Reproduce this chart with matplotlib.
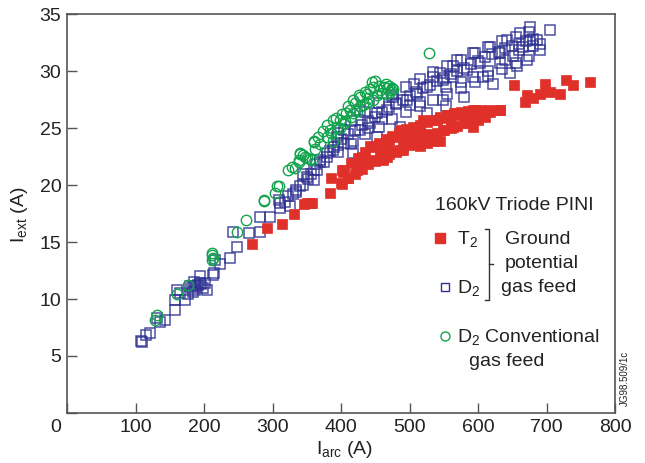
import matplotlib
matplotlib.use("Agg")
import matplotlib.pyplot as plt
from matplotlib.lines import Line2D

plt.rcParams['font.family'] = ['Liberation Sans', 'DejaVu Sans']
plt.rcParams['mathtext.fontset'] = 'custom'
plt.rcParams['mathtext.rm'] = 'Liberation Sans'
plt.rcParams['mathtext.it'] = 'Liberation Sans'
plt.rcParams['mathtext.default'] = 'regular'

# T2, ground potential gas feed
t2_arc = [270, 292, 314, 332, 346, 357, 350, 355, 384, 385, 401, 401, 403, 423, 428,
          437, 442, 442, 457, 461, 467, 476, 486, 486, 491, 491, 501, 510, 515, 515,
          520, 525, 534, 540, 544, 545, 549, 554, 559, 564, 569, 569, 581, 593, 593,
          598, 600, 618, 618, 632, 632, 652, 669, 671, 680, 691, 698, 705, 720, 729,
          739, 764, 410, 430, 470, 480, 500, 530, 560, 585, 610,
          # dense band, lower edge
          400, 410, 420, 430, 440, 450, 460, 470, 480, 490, 500, 510, 520, 530, 540,
          550, 560, 570, 580, 590, 600,
          # dense band, upper edge
          405, 415, 425, 435, 445, 455, 465, 475, 485, 495, 505, 515, 525, 535, 545,
          555, 565, 575, 585, 595, 605]
t2_ext = [14.8, 16.2, 16.6, 17.5, 18.3, 18.4, 18.4, 18.4, 19.3, 20.6, 20.1, 21.3, 21.1, 21.3, 21.6,
          21.9, 23.4, 22.2, 22.8, 22.2, 22.5, 24.2, 23.1, 24.8, 24.2, 23.1, 24.2, 24.2, 24.8, 23.4,
          25.7, 23.7, 23.9, 25.7, 26.0, 23.9, 24.8, 26.0, 26.0, 25.1, 26.1, 26.3, 25.7, 26.6, 25.1,
          26.4, 25.7, 26.4, 26.6, 26.6, 26.6, 28.8, 27.3, 27.9, 27.6, 28.0, 28.9, 28.2, 28.0, 29.2,
          28.8, 29.0, 20.6, 22.5, 23.5, 22.9, 24.6, 24.5, 25.2, 25.4, 26.0,
          20.2, 20.6, 21.0, 21.4, 21.8, 22.1, 22.4, 22.7, 23.0, 23.3, 23.5, 23.8, 24.1, 24.3, 24.6,
          24.8, 25.0, 25.2, 25.4, 25.6, 25.8,
          21.3, 21.9, 22.4, 22.9, 23.3, 23.7, 24.0, 24.3, 24.6, 24.9, 25.1, 25.3, 25.5, 25.7, 25.9,
          26.1, 26.3, 26.4, 26.5, 26.6, 26.6]

# D2, ground potential gas feed
d2_arc = [108, 110, 116, 121, 131, 136, 143, 158, 158, 160, 165, 172, 177, 180, 184,
          189, 194, 194, 202, 204, 213, 214, 216, 223, 238, 243, 248, 265, 282, 282,
          296, 309, 311, 311, 326, 335, 335, 345, 345, 350, 360, 360, 365, 379, 389,
          394, 404, 404, 418, 418, 428, 428, 442, 452, 452, 467, 476, 481, 486, 496,
          506, 511, 525, 525, 535, 545, 549, 549, 554, 554, 564, 564, 569, 579, 584,
          593, 593, 603, 608, 618, 622, 632, 632, 642, 647, 651, 657, 661, 666, 671,
          676, 676, 686, 690, 691, 705, 370, 395, 440, 460, 500, 515, 575, 615, 640,
          660, 680,
          183, 187, 191, 196, 199, 186, 318, 322, 330, 340, 352, 356, 364, 370, 375, 384,
          # dense band, centre
          380, 390, 400, 410, 420, 430, 440, 450, 460, 470, 480, 490, 500, 510, 520,
          530, 540, 550, 560, 570, 580, 590, 600, 610, 620, 630, 640, 650, 660, 670, 680,
          # dense band, lower
          395, 415, 435, 455, 475, 495, 515, 535, 555, 575, 595, 615, 635, 655, 675,
          # dense band, upper
          395, 415, 435, 455, 475, 495, 515, 535, 555, 575, 595, 615, 635, 655, 675]
d2_ext = [6.3, 6.2, 6.8, 7.0, 8.3, 8.0, 8.2, 9.0, 9.9, 10.8, 10.5, 9.9, 10.4, 11.1, 10.6,
          11.1, 11.4, 12.0, 11.4, 10.8, 12.1, 12.3, 13.4, 13.1, 13.6, 15.9, 14.6, 15.8, 15.9, 17.2,
          17.2, 18.7, 18.0, 18.4, 18.2, 19.4, 19.6, 20.0, 21.0, 20.7, 20.4, 21.3, 21.3, 22.5, 23.1,
          24.2, 23.7, 24.8, 23.9, 22.8, 24.8, 26.6, 25.4, 26.3, 24.2, 26.6, 27.7, 27.2, 25.1, 27.5,
          28.9, 28.0, 28.6, 26.3, 29.5, 29.8, 29.2, 27.5, 28.6, 26.9, 30.4, 29.5, 31.0, 27.7, 30.1,
          31.6, 29.5, 30.7, 29.5, 32.1, 28.9, 31.6, 30.7, 32.7, 29.8, 31.3, 30.4, 33.3, 32.1, 31.0,
          33.9, 32.7, 32.7, 32.4, 31.8, 33.6, 22.0, 23.5, 25.0, 25.8, 27.0, 27.3, 29.0, 30.0, 31.0,
          31.8, 32.2,
          11.0, 10.8, 11.2, 11.3, 11.0, 11.5, 18.5, 19.0, 19.2, 19.9, 20.5, 21.0, 21.8, 22.2, 22.0, 23.0,
          22.8, 23.3, 24.0, 24.5, 24.8, 25.3, 25.6, 26.0, 26.4, 26.8, 27.1, 27.5, 27.8, 28.2, 28.5,
          28.8, 29.1, 29.4, 29.7, 30.0, 30.3, 30.6, 30.9, 31.2, 31.5, 31.7, 32.0, 32.2, 32.4, 32.6, 32.8,
          22.9, 23.6, 24.5, 25.1, 25.8, 26.4, 26.9, 27.5, 28.0, 28.5, 29.0, 29.6, 30.2, 30.7, 31.3,
          24.6, 25.6, 26.4, 27.2, 27.9, 28.6, 29.3, 29.9, 30.4, 31.0, 31.6, 32.1, 32.6, 33.0, 33.4]

# D2, conventional gas feed
conv_arc = [129, 131, 160, 176, 211, 212, 212, 213, 248, 262, 287, 287, 304, 306, 309,
            338, 338, 340, 340, 348, 350, 355, 357, 360, 360, 362, 374, 379, 384, 389,
            389, 394, 399, 404, 408, 413, 418, 418, 428, 428, 438, 438, 447, 447, 450,
            457, 467, 472, 474, 529,
            380, 385, 392, 398, 402, 406, 410, 414, 420, 423, 427, 432, 435, 440, 443,
            452, 455, 460, 463, 466, 470, 473, 476, 465, 445, 322, 328, 333, 345, 366, 370]
conv_ext = [8.2, 8.6, 10.4, 11.2, 13.4, 13.9, 14.0, 13.6, 15.9, 16.9, 18.6, 18.7, 19.3, 19.9, 19.9,
            22.0, 22.2, 22.7, 22.8, 22.5, 22.4, 22.3, 22.2, 23.8, 23.9, 23.2, 24.7, 24.2, 24.8, 25.7,
            23.9, 25.1, 25.7, 25.4, 26.3, 26.6, 27.5, 26.3, 27.7, 26.9, 28.0, 27.2, 28.6, 27.5, 29.1,
            28.3, 28.5, 28.2, 28.5, 31.6,
            25.3, 24.6, 25.9, 25.0, 26.2, 25.6, 26.9, 26.0, 27.2, 26.5, 27.9, 27.0, 28.2, 27.6, 28.4,
            27.9, 28.7, 28.1, 28.6, 28.0, 28.7, 28.3, 28.4, 28.9, 29.0, 21.3, 21.6, 21.5, 22.6, 24.2, 23.6]

red = '#e0302a'
blue = '#2e3192'
green = '#13a54e'

fig = plt.figure(figsize=(6.45, 4.63), dpi=100)
ax = fig.add_axes([67/645, 1 - 413/463, 548/645, 399/463])

ax.plot(d2_arc, d2_ext, 's', ms=7.5, mfc='none', mec=blue, mew=1.1, alpha=0.85, ls='none', zorder=2)
ax.plot(t2_arc, t2_ext, 's', ms=7.5, mfc=red, mec=red, mew=0.5, ls='none', zorder=3)
ax.plot(conv_arc, conv_ext, 'o', ms=7.5, mfc='none', mec=green, mew=1.0, ls='none', zorder=4)

ax.set_xlim(0, 800)
ax.set_ylim(0, 35)
ax.set_xticks(range(0, 801, 100))
ax.set_yticks(range(0, 36, 5))
ax.set_xticklabels([''] + [str(v) for v in range(100, 801, 100)])
ax.set_yticklabels([''] + [str(v) for v in range(5, 36, 5)])
ax.tick_params(direction='in', length=7, width=1, color='#555555',
               labelsize=14, labelcolor='#222222', pad=4)
for s in ax.spines.values():
    s.set_color('#555555')
    s.set_linewidth(1.2)

fig.text(56/645, 1 - 427/463, '0', fontsize=14, color='#222222', ha='center', va='center')
fig.text(345/645, 1 - 450/463, 'I$_{arc}$ (A)', fontsize=14, color='#222222', ha='center', va='center')
fig.text(20/645, 1 - 215/463, 'I$_{ext}$ (A)', fontsize=14, color='#222222', ha='center', va='center', rotation=90)
fig.text(625/645, 1 - 378/463, 'JG98.509/1c', fontsize=7, color='#222222', ha='center', va='center', rotation=90)

# legend drawn by hand
def fx(px):
    return px / 645

def fy(py):
    return 1 - py / 463

tf = fig.transFigure
fig.text(fx(435), fy(206), '160kV Triode PINI', fontsize=14, color='#222222', va='center')
fig.add_artist(Line2D([fx(440)], [fy(238)], marker='s', ms=7, mfc=red, mec=red, ls='none', transform=tf))
fig.text(fx(457), fy(239), 'T$_2$', fontsize=14, color='#222222', va='center')
fig.add_artist(Line2D([fx(445)], [fy(287)], marker='s', ms=6, mfc='none', mec=blue, mew=1, ls='none', transform=tf))
fig.text(fx(457), fy(288), 'D$_2$', fontsize=14, color='#222222', va='center')
fig.add_artist(Line2D([fx(485), fx(489), fx(489), fx(485)], [fy(229), fy(229), fy(300), fy(300)],
                      color='#333333', lw=1, transform=tf))
fig.add_artist(Line2D([fx(489), fx(493)], [fy(264), fy(264)], color='#333333', lw=1, transform=tf))
fig.text(fx(505), fy(239), 'Ground', fontsize=14, color='#222222', va='center')
fig.text(fx(505), fy(263), 'potential', fontsize=14, color='#222222', va='center')
fig.text(fx(501), fy(287), 'gas feed', fontsize=14, color='#222222', va='center')
fig.add_artist(Line2D([fx(445)], [fy(336)], marker='o', ms=6.5, mfc='none', mec=green, mew=1, ls='none', transform=tf))
fig.text(fx(457), fy(337), 'D$_2$ Conventional', fontsize=14, color='#222222', va='center')
fig.text(fx(469), fy(361), 'gas feed', fontsize=14, color='#222222', va='center')

fig.savefig('out.png', dpi=100)
